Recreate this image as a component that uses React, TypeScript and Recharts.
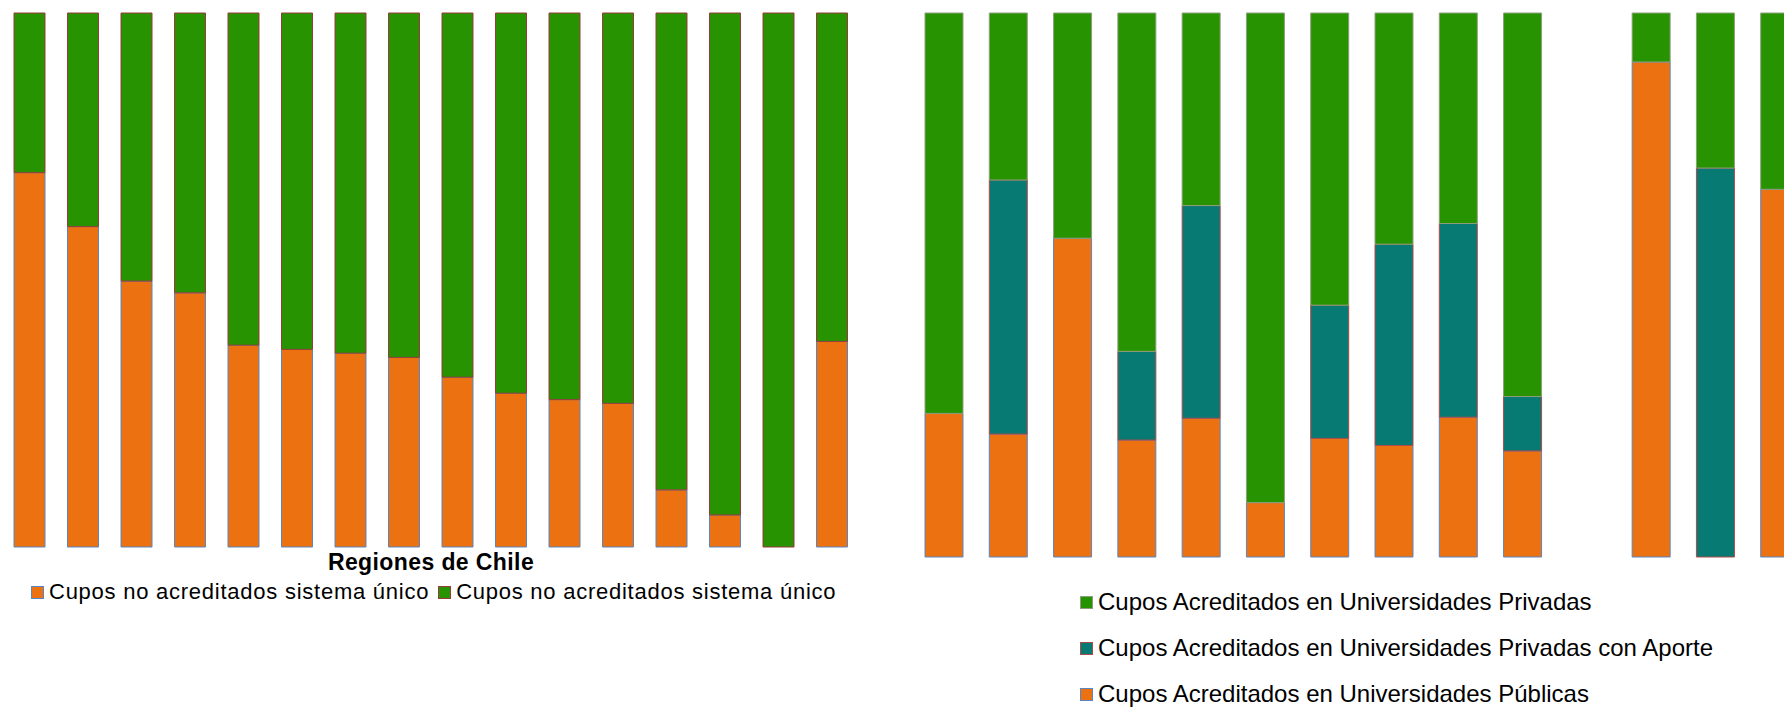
import { Bar, BarChart, XAxis, YAxis } from "recharts";

// left chart: share per region (percent)
const regiones = ["R1", "R2", "R3", "R4", "R5", "R6", "R7", "R8", "R9", "R10", "R11", "R12", "R13", "R14", "R15", "R16"];
const noAcredA = [70.1, 60.0, 49.8, 47.6, 37.8, 37.0, 36.3, 35.5, 31.8, 28.8, 27.6, 26.9, 10.7, 6.0, 0, 38.5];
const noAcredB = [29.9, 40.0, 50.2, 52.4, 62.2, 63.0, 63.7, 64.5, 68.2, 71.2, 72.4, 73.1, 89.3, 94.0, 100, 61.5];

// right chart: accredited seats by type (percent), one empty slot
const grupos = ["G1", "G2", "G3", "G4", "G5", "G6", "G7", "G8", "G9", "G10", "", "G11", "G12", "G13"];
const publicas = [26.4, 22.6, 58.6, 21.5, 25.5, 10.0, 21.8, 20.5, 25.7, 19.5, null, 91.0, 0, 67.6];
const conAporte = [0, 46.7, 0, 16.3, 39.1, 0, 24.5, 37.0, 35.6, 10.0, null, 0, 71.5, 0];
const privadas = [73.6, 30.7, 41.4, 62.2, 35.4, 90.0, 53.7, 42.5, 38.7, 70.5, null, 9.0, 28.5, 32.4];

const ORANGE = "#EB7111";
const GREEN = "#289300";
const TEAL = "#077B73";

const leftData = regiones.map((r, i) => ({ region: r, a: noAcredA[i], b: noAcredB[i] }));
const rightData = grupos.map((g, i) => ({
  grupo: g,
  publicas: publicas[i],
  aporte: conAporte[i],
  privadas: privadas[i],
}));

const font = "'Liberation Sans', Arial, sans-serif";

function Swatch({ fill, border }: { fill: string; border: string }) {
  return (
    <span
      style={{
        display: "inline-block",
        flex: "none",
        width: 11,
        height: 11,
        background: fill,
        border: `1px solid ${border}`,
        marginRight: 5,
      }}
    />
  );
}

const rightLegend = [
  { label: "Cupos Acreditados en Universidades Privadas", fill: GREEN, border: "#8e9e7c" },
  { label: "Cupos Acreditados en Universidades Privadas con Aporte", fill: TEAL, border: "#b04a4a" },
  { label: "Cupos Acreditados en Universidades Públicas", fill: ORANGE, border: "#5b86c4" },
];

export default function App() {
  return (
    <div
      style={{
        position: "fixed",
        left: 0,
        top: 0,
        width: 1784,
        height: 707,
        overflow: "hidden",
        background: "#fff",
        fontFamily: font,
        color: "#000",
      }}
    >
      <div style={{ position: "absolute", left: 0, top: 0 }}>
        <BarChart
          width={870}
          height={560}
          data={leftData}
          margin={{ top: 13, right: 11, left: 3, bottom: 13 }}
          barSize={31}
        >
          <XAxis dataKey="region" hide />
          <YAxis type="number" domain={[0, 100]} hide />
          <Bar dataKey="a" stackId="s" fill={ORANGE} stroke="#5b86c4" strokeWidth={1} isAnimationActive={false} />
          <Bar dataKey="b" stackId="s" fill={GREEN} stroke="#9a3b3b" strokeWidth={1} isAnimationActive={false} />
        </BarChart>
      </div>

      <div
        style={{
          position: "absolute",
          left: 281,
          width: 300,
          top: 551,
          textAlign: "center",
          fontWeight: "bold",
          fontSize: 23,
          lineHeight: "23px",
          letterSpacing: 0.4,
          whiteSpace: "nowrap",
        }}
      >
        Regiones de Chile
      </div>
      <div
        style={{
          position: "absolute",
          left: 31,
          top: 580,
          height: 24,
          display: "flex",
          alignItems: "center",
          fontSize: 22,
          letterSpacing: 0.75,
          whiteSpace: "nowrap",
        }}
      >
        <Swatch fill={ORANGE} border="#5b86c4" />
        <span>Cupos no acreditados sistema único</span>
        <span style={{ display: "inline-block", width: 9 }} />
        <Swatch fill={GREEN} border="#9a3b3b" />
        <span>Cupos no acreditados sistema único</span>
      </div>

      <div style={{ position: "absolute", left: 900, top: 0 }}>
        <BarChart
          width={912}
          height={570}
          data={rightData}
          margin={{ top: 13, right: 0, left: 12, bottom: 13 }}
          barSize={38}
        >
          <XAxis dataKey="grupo" hide />
          <YAxis type="number" domain={[0, 100]} hide />
          <Bar dataKey="publicas" stackId="s" fill={ORANGE} stroke="#5b86c4" strokeWidth={1} isAnimationActive={false} />
          <Bar dataKey="aporte" stackId="s" fill={TEAL} stroke="#b04a4a" strokeWidth={1} isAnimationActive={false} />
          <Bar dataKey="privadas" stackId="s" fill={GREEN} stroke="#8e9e7c" strokeWidth={1} isAnimationActive={false} />
        </BarChart>
      </div>

      <div style={{ position: "absolute", left: 1080, top: 579, fontSize: 24, whiteSpace: "nowrap" }}>
        {rightLegend.map((item) => (
          <div key={item.label} style={{ height: 46, display: "flex", alignItems: "center" }}>
            <Swatch fill={item.fill} border={item.border} />
            <span style={{ lineHeight: "26px" }}>{item.label}</span>
          </div>
        ))}
      </div>
    </div>
  );
}
